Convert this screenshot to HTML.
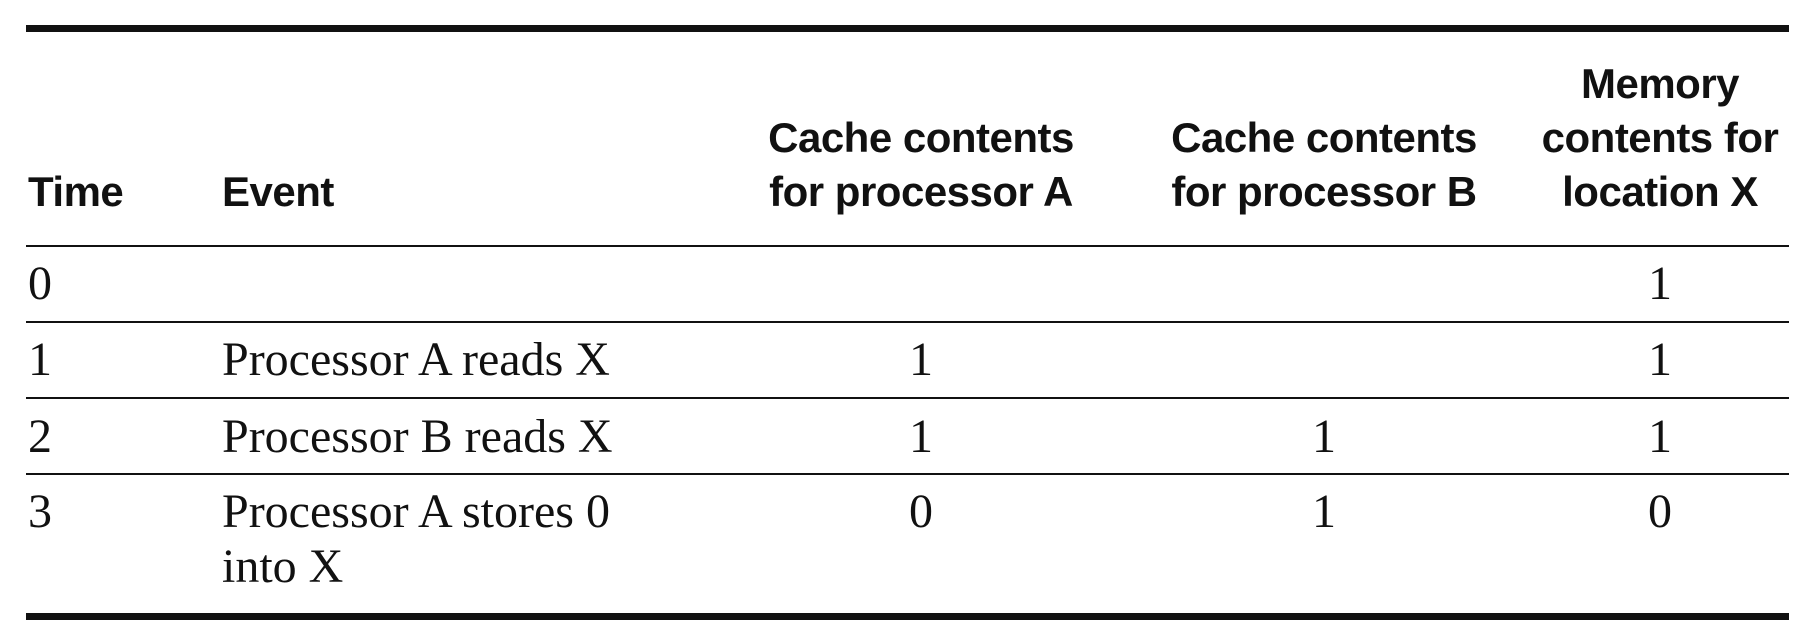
<!DOCTYPE html>
<html><head><meta charset="utf-8"><style>
html,body{margin:0;padding:0;background:#fff;}
body{width:1810px;height:636px;position:relative;overflow:hidden;}
.l{position:absolute;left:26px;width:1763px;background:#111;}
.h{position:absolute;font-family:"Liberation Sans",sans-serif;font-weight:bold;font-size:42px;line-height:54px;color:#111;text-align:center;letter-spacing:-0.5px;}
.t{position:absolute;font-family:"Liberation Serif",serif;font-size:48px;line-height:55px;color:#111;}
.c{text-align:center;width:100px;margin-left:-50px;}
</style></head><body>
<div class="l" style="top:25px;height:7px"></div>
<div class="l" style="top:245px;height:2px"></div>
<div class="l" style="top:321px;height:2px"></div>
<div class="l" style="top:397px;height:2px"></div>
<div class="l" style="top:473px;height:2px"></div>
<div class="l" style="top:613px;height:7px"></div>

<div class="h" style="left:28px;top:165px;text-align:left">Time</div>
<div class="h" style="left:222px;top:165px;text-align:left">Event</div>
<div class="h" style="left:721px;width:400px;top:111px">Cache contents<br>for processor A</div>
<div class="h" style="left:1124px;width:400px;top:111px">Cache contents<br>for processor B</div>
<div class="h" style="left:1500px;width:320px;top:57px">Memory<br>contents for<br>location X</div>

<div class="t" style="left:28px;top:256px">0</div>
<div class="t c" style="left:1660px;top:256px">1</div>

<div class="t" style="left:28px;top:332px">1</div>
<div class="t" style="left:222px;top:332px">Processor A reads X</div>
<div class="t c" style="left:921px;top:332px">1</div>
<div class="t c" style="left:1660px;top:332px">1</div>

<div class="t" style="left:28px;top:409px">2</div>
<div class="t" style="left:222px;top:409px">Processor B reads X</div>
<div class="t c" style="left:921px;top:409px">1</div>
<div class="t c" style="left:1324px;top:409px">1</div>
<div class="t c" style="left:1660px;top:409px">1</div>

<div class="t" style="left:28px;top:484px">3</div>
<div class="t" style="left:222px;top:484px">Processor A stores 0<br>into X</div>
<div class="t c" style="left:921px;top:484px">0</div>
<div class="t c" style="left:1324px;top:484px">1</div>
<div class="t c" style="left:1660px;top:484px">0</div>
</body></html>
